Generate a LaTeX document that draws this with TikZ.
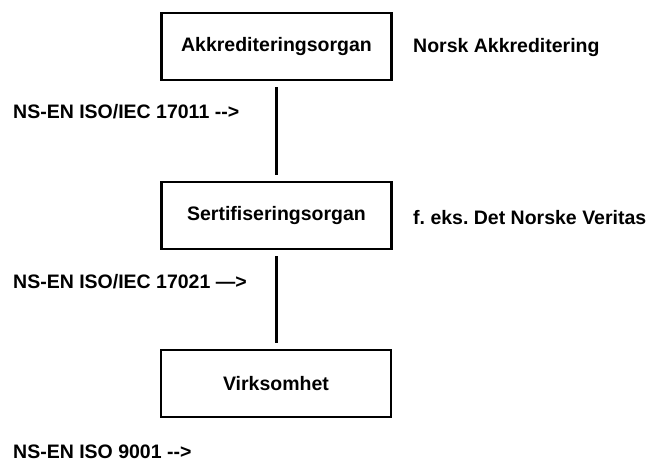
\documentclass[tikz,border=0pt]{standalone}
\usepackage{fontspec}
\setmainfont{Liberation Sans}
\frenchspacing
\begin{document}
\begin{tikzpicture}[x=1pt,y=-1pt,
  font=\fontsize{19.5}{23}\selectfont\bfseries,
  orgbox/.style={draw, line width=2.2pt, minimum width=230pt, minimum height=67pt, inner sep=0pt},
  lbl/.style={anchor=west, inner sep=0pt},
  link/.style={line width=2.2pt, shorten <=6pt, shorten >=6pt}]
\useasboundingbox (0,0) rectangle (653,464);
\node[orgbox] (akk) at (276.5,46.5) {Akkrediteringsorgan};
\node[orgbox] (sert) at (276.5,215.5) {Sertifiseringsorgan};
\node[orgbox] (virk) at (276,383.5) {Virksomhet};
\draw[link] (akk.south) -- (akk.south |- sert.north);
\draw[link] (sert.south) -- (sert.south |- virk.north);
\node[lbl] (nakk) at (413,47) {Norsk Akkreditering};
\node[lbl] (dnv) at (413,218) {f. eks. Det Norske Veritas};
\node[lbl] (s1) at (13,112) {NS-EN ISO/IEC 17011 -{}->};
\node[lbl] (s2) at (13,282) {NS-EN ISO/IEC 17021 —>};
\node[lbl] (s3) at (13,452) {NS-EN ISO 9001 -{}->};
\end{tikzpicture}
\end{document}
